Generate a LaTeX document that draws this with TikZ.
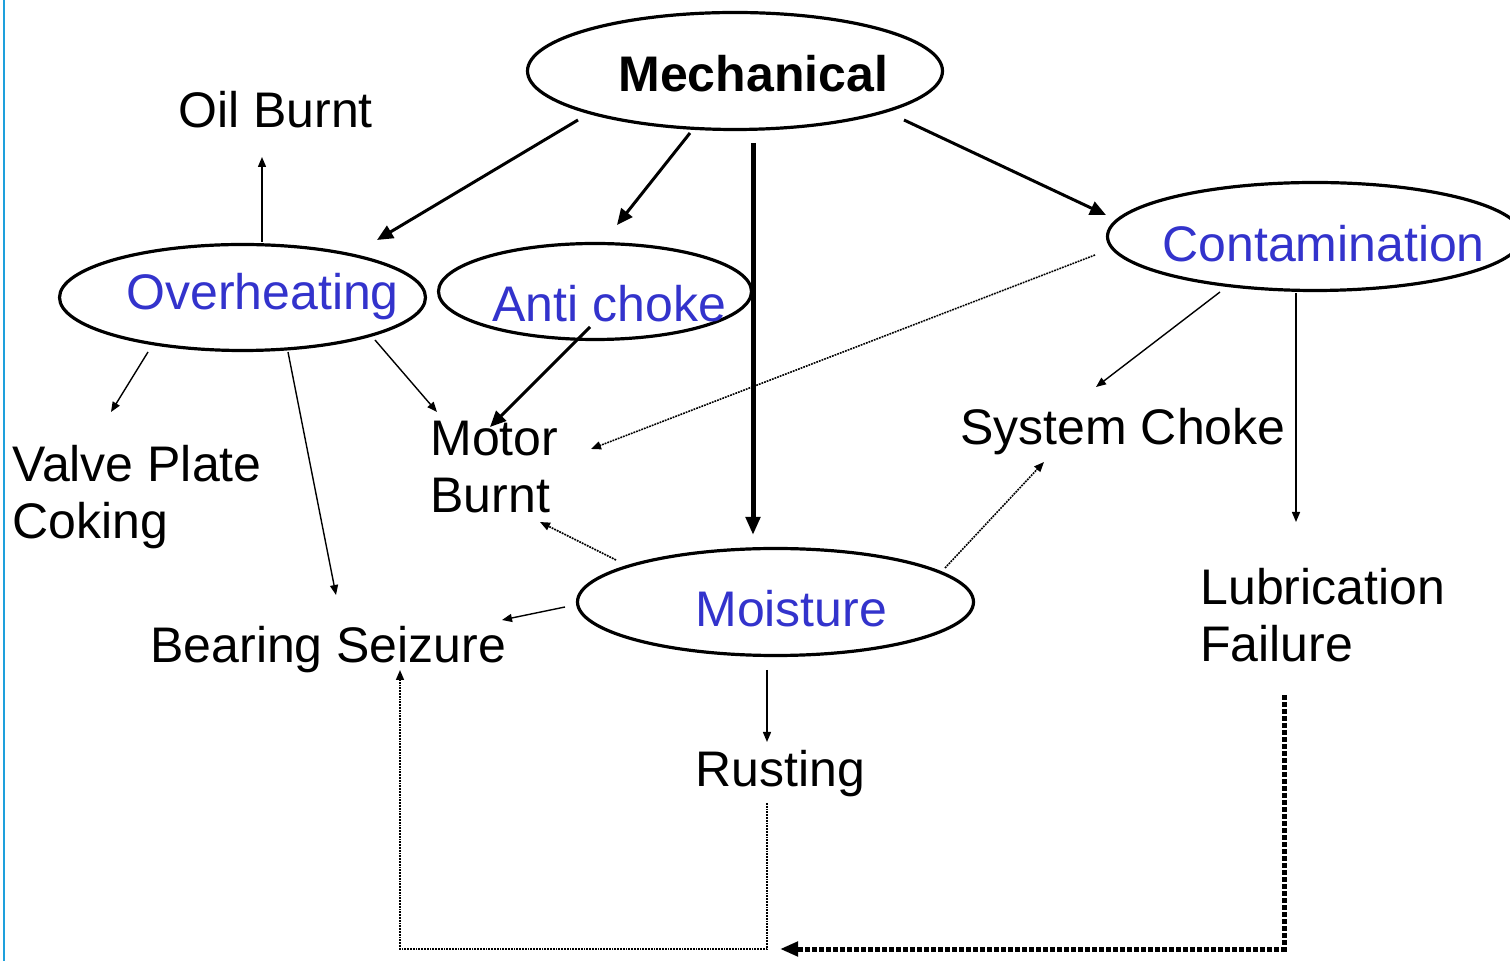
\documentclass[tikz,border=0pt]{standalone}
\usepackage{fontspec}
\setmainfont{Liberation Sans}
\usetikzlibrary{arrows.meta,shapes.geometric}
\definecolor{tblue}{RGB}{51,51,204}
\definecolor{edgecyan}{RGB}{30,160,220}
\begin{document}
\begin{tikzpicture}[x=0.5pt,y=-0.5pt,
  ell/.style={draw, ellipse, line width=1.6pt, inner sep=0pt},
  lbl/.style={inner sep=0pt, font=\fontsize{25}{28.5}\selectfont, align=left},
  blbl/.style={lbl, text=tblue},
  thinarrow/.style={line width=0.7pt, -{Triangle[length=5pt,width=4pt]}},
  thickarrow/.style={line width=1.5pt, -{Triangle[length=8pt,width=7pt]}},
  heavyarrow/.style={line width=2.5pt, -{Triangle[length=9pt,width=7pt]}},
  dotarrow/.style={line width=0.8pt, dash pattern=on 0.9pt off 0.5pt, -{Triangle[length=5pt,width=4pt]}},
  heavydots/.style={line width=2.5pt, dash pattern=on 2.5pt off 1pt, -{Triangle[length=9pt,width=7pt]}},
]
\useasboundingbox (0,0) rectangle (1510,961);
\clip (0,0) rectangle (1510,961);
\fill[white] (0,0) rectangle (1510,961);
\draw[edgecyan, line width=1pt] (4,0) -- (4,961);

% ellipses
\node[ell, minimum width=207.5pt, minimum height=58.5pt] (mech) at (735,71) {};
\node[ell, minimum width=183pt, minimum height=53pt] (ovh) at (242.5,297.5) {};
\node[ell, minimum width=156.5pt, minimum height=48pt] (anti) at (595,291.5) {};
\node[ell, minimum width=207.5pt, minimum height=54pt] (cont) at (1315,236.5) {};
\node[ell, minimum width=198pt, minimum height=53.5pt] (moist) at (775.5,602) {};

% ellipse texts
\node[lbl, anchor=base west, font=\fontsize{25}{28.5}\selectfont\bfseries] (mechT) at (618,92) {Mechanical};
\node[blbl, anchor=base west] (ovhT) at (126,310) {Overheating};
\node[blbl, anchor=base west] (antiT) at (492,322) {Anti choke};
\node[blbl, anchor=base west] (contT) at (1162,262) {Contamination};
\node[blbl, anchor=base west] (moistT) at (695,627) {Moisture};

% plain labels
\node[lbl, anchor=base west] (oil) at (178,128) {Oil Burnt};
\node[lbl, anchor=north west] (valve) at (12,445) {Valve Plate\\Coking};
\node[lbl, anchor=north west] (motor) at (430,421) {Motor\\Burnt};
\node[lbl, anchor=base west] (sysch) at (960,445) {System Choke};
\node[lbl, anchor=north west] (lub) at (1200,568) {Lubrication\\Failure};
\node[lbl, anchor=base west] (bear) at (150,663) {Bearing Seizure};
\node[lbl, anchor=base west] (rust) at (695,787) {Rusting};

\coordinate (bot) at (0,949);
\coordinate (lfend) at (780,949);

% from Mechanical
\draw[thickarrow] ([shift={(-157,49)}]mech.center) -- ([shift={(134.5,-57.5)}]ovh.center);
\draw[thickarrow] ([shift={(-45,62)}]mech.center) -- ([shift={(22,-66.5)}]anti.center);
\draw[heavyarrow] ([shift={(18,72)}]mech.center) -- ([shift={(-22.5,-67)}]moist.center);
\draw[thickarrow] ([shift={(169,49)}]mech.center) -- ([shift={(-209,-21.5)}]cont.center);

% from Overheating
\draw[thinarrow] ([shift={(19.5,-55.5)}]ovh.center) -- ([shift={(84,29)}]oil.base west);
\draw[thinarrow] ([shift={(-94.5,54.5)}]ovh.center) -- ([shift={(99,-33)}]valve.north west);
\draw[thinarrow] ([shift={(132.5,42.5)}]ovh.center) -- ([shift={(7,-9)}]motor.north west);
\draw[thinarrow] ([shift={(45.5,54.5)}]ovh.center) -- ([shift={(186,-68)}]bear.base west);

% from Anti choke
\draw[thickarrow] ([shift={(-5,35.5)}]anti.center) -- ([shift={(60,6)}]motor.north west);

% from Contamination
\draw[dotarrow] ([shift={(-220,18.5)}]cont.center) -- ([shift={(161,28)}]motor.north west);
\draw[thinarrow] ([shift={(-95,55.5)}]cont.center) -- ([shift={(136,-58)}]sysch.base west);
\draw[thinarrow] ([shift={(-19,56.5)}]cont.center) -- ([shift={(96,-46)}]lub.north west);

% from Moisture
\draw[dotarrow] ([shift={(-159.5,-42)}]moist.center) -- ([shift={(110,101)}]motor.north west);
\draw[dotarrow] ([shift={(169.5,-34)}]moist.center) -- ([shift={(84,17)}]sysch.base west);
\draw[thinarrow] ([shift={(-210.5,5)}]moist.center) -- ([shift={(352,-43)}]bear.base west);
\draw[thinarrow] ([shift={(-8.5,68)}]moist.center) -- ([shift={(72,-45)}]rust.base west);

% bottom loops
\coordinate (rs) at ([shift={(72,16)}]rust.base west);
\coordinate (be) at ([shift={(250,7)}]bear.base west);
\draw[dotarrow] (rs) -- (rs |- bot) -| (be);
\coordinate (ls) at ([shift={(84,127)}]lub.north west);
\draw[heavydots] (ls) -- (ls |- bot) -- (lfend);
\end{tikzpicture}
\end{document}
